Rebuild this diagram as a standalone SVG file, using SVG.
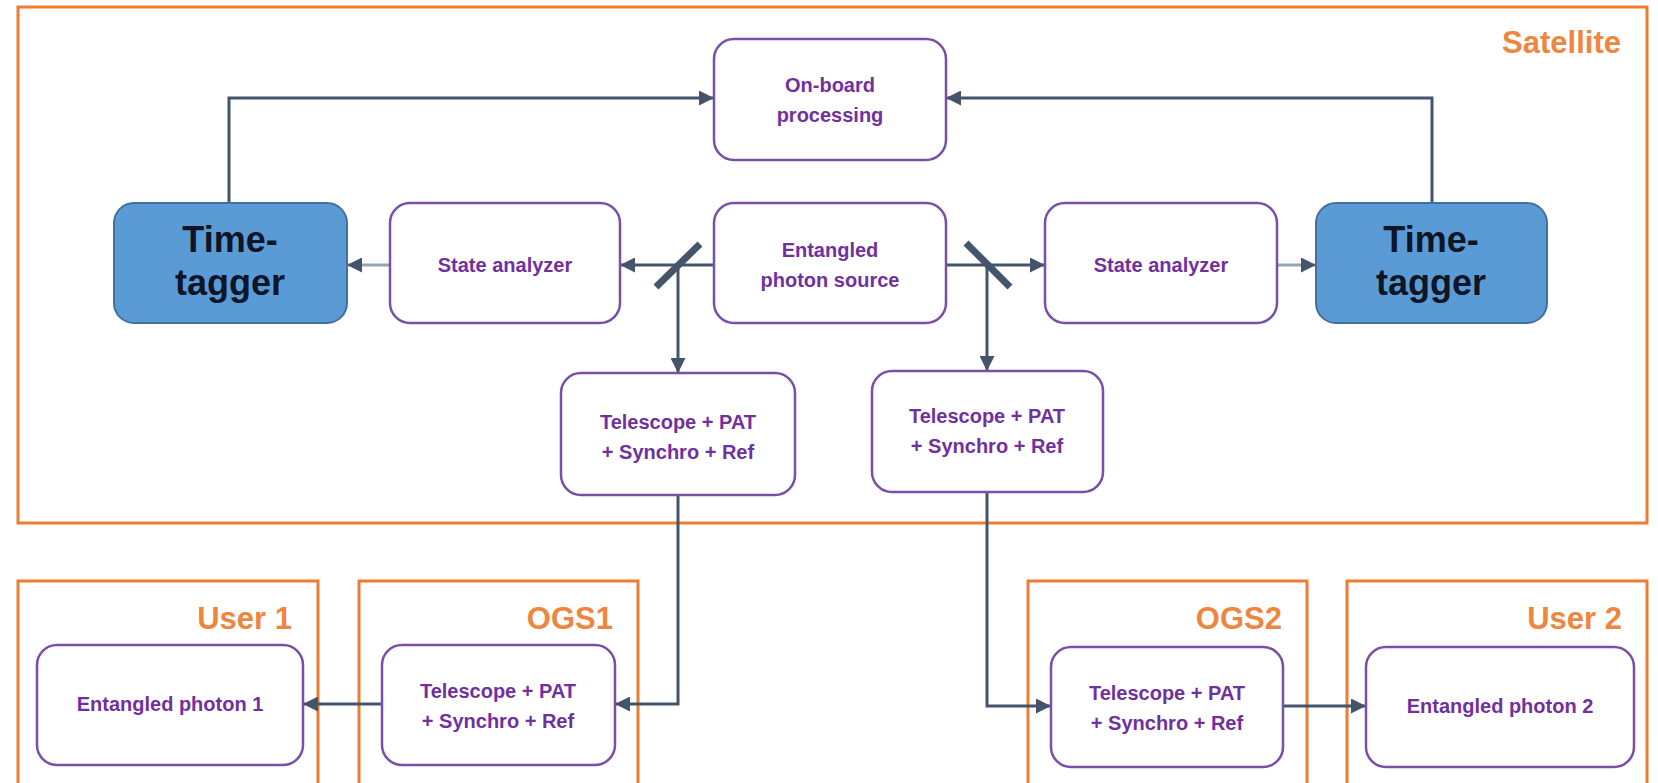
<svg xmlns="http://www.w3.org/2000/svg" width="1658" height="783" viewBox="0 0 1658 783">
<style>
.frame{fill:none;stroke:#ed7d31;stroke-width:3}
.ftxt{font-family:"Liberation Sans",Arial,sans-serif;font-weight:bold;font-size:31px;fill:#ee8640;text-anchor:end}
.box{fill:#ffffff;stroke:#7a4fa8;stroke-width:2.5}
.btxt{font-family:"Liberation Sans",Arial,sans-serif;font-weight:bold;font-size:20px;fill:#7030a0;text-anchor:middle}
.tt{fill:#5b9bd5;stroke:#41719c;stroke-width:2}
.tttxt{font-family:"Liberation Sans",Arial,sans-serif;font-weight:bold;font-size:36px;fill:#0d1526;text-anchor:middle}
.conn{fill:none;stroke:#44546a;stroke-width:3}
.light{fill:none;stroke:#9aa3ad;stroke-width:3}
.mirror{stroke:#44546a;stroke-width:7}
</style>
<defs>
<marker id="arr" viewBox="0 0 10 10" refX="10" refY="5" markerWidth="15" markerHeight="15" markerUnits="userSpaceOnUse" orient="auto">
<path d="M0,0 L10,5 L0,10 z" fill="#44546a"/>
</marker>
</defs>
<rect width="1658" height="783" fill="#ffffff"/>

<g id="satellite">
<rect class="frame" x="18" y="7" width="1629" height="516"/>
<text class="ftxt" x="1621" y="53">Satellite</text>
</g>
<g id="user1">
<rect class="frame" x="18" y="581" width="300" height="220"/>
<text class="ftxt" x="292" y="629">User 1</text>
</g>
<g id="ogs1">
<rect class="frame" x="359" y="581" width="279" height="220"/>
<text class="ftxt" x="613" y="629">OGS1</text>
</g>
<g id="ogs2">
<rect class="frame" x="1028" y="581" width="279" height="220"/>
<text class="ftxt" x="1282" y="629">OGS2</text>
</g>
<g id="user2">
<rect class="frame" x="1347" y="581" width="300" height="220"/>
<text class="ftxt" x="1622" y="629">User 2</text>
</g>

<g id="connectors">
<path class="conn" d="M229,203 V98 H714" marker-end="url(#arr)"/>
<path class="conn" d="M1432,203 V98 H946" marker-end="url(#arr)"/>
<path class="conn" d="M714,265 H620" marker-end="url(#arr)"/>
<path class="conn" d="M946,265 H1045" marker-end="url(#arr)"/>
<path class="light" d="M390,265 H347" marker-end="url(#arr)"/>
<path class="light" d="M1277,265 H1316" marker-end="url(#arr)"/>
<path class="conn" d="M678,265 V373" marker-end="url(#arr)"/>
<path class="conn" d="M987,265 V371" marker-end="url(#arr)"/>
<path class="conn" d="M678,495 V704 H615" marker-end="url(#arr)"/>
<path class="conn" d="M382,704 H303" marker-end="url(#arr)"/>
<path class="conn" d="M987,492 V706 H1051" marker-end="url(#arr)"/>
<path class="conn" d="M1283,706 H1366" marker-end="url(#arr)"/>
<line class="mirror" x1="656" y1="287" x2="700" y2="244"/>
<line class="mirror" x1="966" y1="243" x2="1010" y2="287"/>
</g>

<g id="onboard">
<rect class="box" x="714" y="39" width="232" height="121" rx="20"/>
<text class="btxt" x="830" y="92">On-board</text>
<text class="btxt" x="830" y="122">processing</text>
</g>
<g id="timetagger-left">
<rect class="tt" x="114" y="203" width="233" height="120" rx="20"/>
<text class="tttxt" x="230" y="252">Time-</text>
<text class="tttxt" x="230" y="295">tagger</text>
</g>
<g id="analyzer-left">
<rect class="box" x="390" y="203" width="230" height="120" rx="20"/>
<text class="btxt" x="505" y="272">State analyzer</text>
</g>
<g id="source">
<rect class="box" x="714" y="203" width="232" height="120" rx="20"/>
<text class="btxt" x="830" y="257">Entangled</text>
<text class="btxt" x="830" y="287">photon source</text>
</g>
<g id="analyzer-right">
<rect class="box" x="1045" y="203" width="232" height="120" rx="20"/>
<text class="btxt" x="1161" y="272">State analyzer</text>
</g>
<g id="timetagger-right">
<rect class="tt" x="1316" y="203" width="231" height="120" rx="20"/>
<text class="tttxt" x="1431" y="252">Time-</text>
<text class="tttxt" x="1431" y="295">tagger</text>
</g>
<g id="telescope-left">
<rect class="box" x="561" y="373" width="234" height="122" rx="20"/>
<text class="btxt" x="678" y="429">Telescope + PAT</text>
<text class="btxt" x="678" y="459">+ Synchro + Ref</text>
</g>
<g id="telescope-right">
<rect class="box" x="872" y="371" width="231" height="121" rx="20"/>
<text class="btxt" x="987" y="423">Telescope + PAT</text>
<text class="btxt" x="987" y="453">+ Synchro + Ref</text>
</g>
<g id="photon1">
<rect class="box" x="37" y="645" width="266" height="120" rx="20"/>
<text class="btxt" x="170" y="711">Entangled photon 1</text>
</g>
<g id="ogs1-telescope">
<rect class="box" x="382" y="645" width="233" height="120" rx="20"/>
<text class="btxt" x="498" y="698">Telescope + PAT</text>
<text class="btxt" x="498" y="728">+ Synchro + Ref</text>
</g>
<g id="ogs2-telescope">
<rect class="box" x="1051" y="647" width="232" height="120" rx="20"/>
<text class="btxt" x="1167" y="700">Telescope + PAT</text>
<text class="btxt" x="1167" y="730">+ Synchro + Ref</text>
</g>
<g id="photon2">
<rect class="box" x="1366" y="647" width="268" height="120" rx="20"/>
<text class="btxt" x="1500" y="713">Entangled photon 2</text>
</g>
</svg>
